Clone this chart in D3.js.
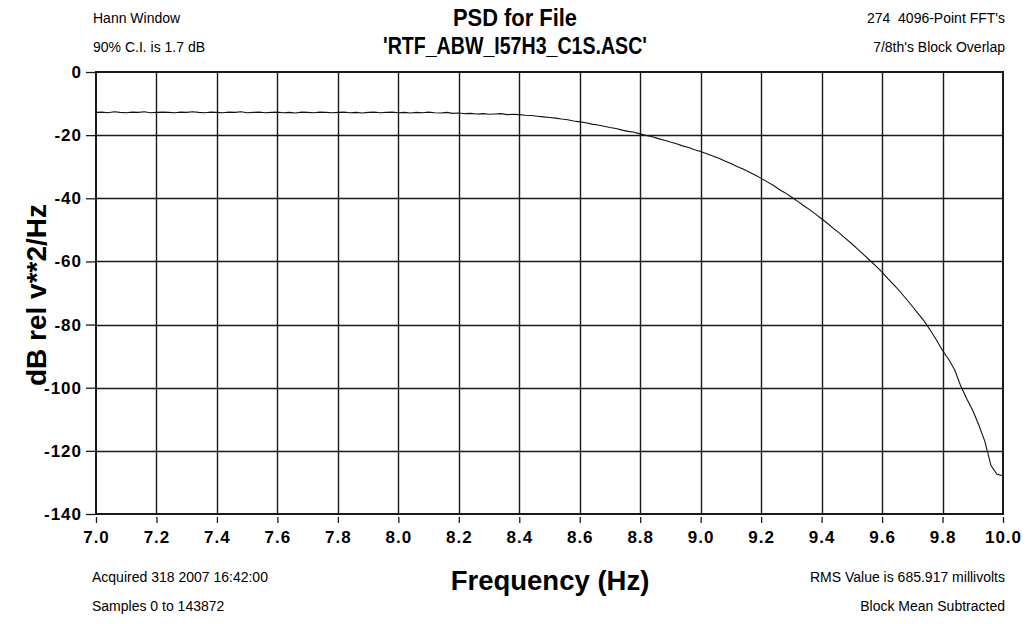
<!DOCTYPE html>
<html>
<head>
<meta charset="utf-8">
<script src="https://d3js.org/d3.v7.min.js"></script>
<style>
  html, body { margin: 0; padding: 0; background: #fff; }
  svg { display: block; }
  text { white-space: pre; }
</style>
</head>
<body>
<script>
// Power spectral density, 7.0 – 10.0 Hz, sampled every 0.02 Hz
const freqStart = 7.0;
const freqStep = 0.02;
const psdDb = [
  -12.8, -12.7, -12.9, -12.6, -12.8, -12.9, -12.7, -12.8, -12.6, -12.9,
  -12.8, -12.7, -12.8, -12.9, -12.7, -12.8, -12.6, -12.8, -12.9, -12.7,
  -12.8, -12.9, -12.7, -12.8, -12.6, -12.9, -12.8, -12.7, -12.9, -12.8,
  -12.7, -12.9, -12.8, -13.0, -12.7, -12.8, -12.9, -12.7, -12.8, -12.9,
  -12.8, -12.7, -12.9, -12.8, -13.0, -12.8, -12.7, -12.9, -12.8, -12.7,
  -12.9, -12.8, -13.0, -12.8, -12.9, -12.7, -12.9, -13.0, -12.8, -13.1,
  -13.0, -13.2, -13.1, -13.3, -13.2, -13.4, -13.3, -13.2, -13.5, -13.4,
  -13.5, -13.7, -13.8, -14.0, -14.2, -14.4, -14.6, -14.9, -15.1, -15.5,
  -15.8, -16.1, -16.5, -16.8, -17.2, -17.6, -17.9, -18.4, -18.8, -19.1,
  -19.6, -20.1, -20.5, -21.1, -21.6, -22.2, -22.7, -23.4, -23.9, -24.6,
  -25.2, -25.9, -26.6, -27.3, -28.2, -29.0, -29.9, -30.7, -31.7, -32.6,
  -33.7, -34.8, -35.9, -37.2, -38.3, -39.6, -40.9, -42.3, -43.6, -45.0,
  -46.5, -48.0, -49.6, -51.1, -52.8, -54.4, -56.2, -57.9, -59.7, -61.5,
  -63.4, -65.5, -67.5, -69.6, -71.9, -74.2, -76.6, -79.0, -81.9, -84.9,
  -88.2, -91.0, -94.3, -99.4, -103.5, -107.2, -111.8, -117.0, -124.6, -127.4,
  -127.9
];

const xTicks = [7.0, 7.2, 7.4, 7.6, 7.8, 8.0, 8.2, 8.4, 8.6, 8.8, 9.0, 9.2, 9.4, 9.6, 9.8, 10.0];
const yTicks = [0, -20, -40, -60, -80, -100, -120, -140];

const titleLines = ["PSD for File", "'RTF_ABW_I57H3_C1S.ASC'"];
const notesTopLeft = ["Hann Window", "90% C.I. is 1.7 dB"];
const notesTopRight = ["274  4096-Point FFT's", "7/8th's Block Overlap"];
const notesBottomLeft = ["Acquired 318 2007 16:42:00", "Samples 0 to 143872"];
const notesBottomRight = ["RMS Value is 685.917 millivolts", "Block Mean Subtracted"];
const xLabel = "Frequency (Hz)";
const yLabel = "dB rel v**2/Hz";

const W = 1026, H = 624;
const plot = { left: 96, right: 1003, top: 72, bottom: 514 };

const svg = d3.select("body").append("svg")
  .attr("width", W).attr("height", H)
  .style("font-family", "'Liberation Sans', Arial, sans-serif");

const x = d3.scaleLinear().domain([7.0, 10.0]).range([plot.left, plot.right]);
const y = d3.scaleLinear().domain([-140, 0]).range([plot.bottom, plot.top]);

// grid
const grid = svg.append("g").attr("stroke", "#1a1a1a").attr("stroke-width", 1.4);
grid.selectAll("line.v").data(xTicks.slice(1, -1)).join("line")
  .attr("x1", d => Math.round(x(d)) + 0.5).attr("x2", d => Math.round(x(d)) + 0.5)
  .attr("y1", plot.top).attr("y2", plot.bottom);
grid.selectAll("line.h").data(yTicks.slice(1, -1)).join("line")
  .attr("y1", d => Math.round(y(d)) + 0.5).attr("y2", d => Math.round(y(d)) + 0.5)
  .attr("x1", plot.left).attr("x2", plot.right);

// frame
svg.append("rect")
  .attr("x", plot.left).attr("y", plot.top)
  .attr("width", plot.right - plot.left).attr("height", plot.bottom - plot.top)
  .attr("fill", "none").attr("stroke", "#1a1a1a").attr("stroke-width", 2);

// y axis ticks + labels (plain hyphen for negatives)
const yAxis = d3.axisLeft(y).tickValues(yTicks).tickSize(9).tickPadding(4)
  .tickFormat(d => String(d));
const gy = svg.append("g").attr("transform", `translate(${plot.left - 1},0)`).call(yAxis);
gy.select(".domain").remove();
gy.selectAll(".tick line").attr("stroke", "#1a1a1a").attr("stroke-width", 1.3);
gy.selectAll(".tick text")
  .attr("fill", "#000").style("font-size", "17px").style("font-weight", "bold")
  .style("letter-spacing", "1px");

// x axis ticks + labels
const xAxis = d3.axisBottom(x).tickValues(xTicks).tickSize(6).tickPadding(8)
  .tickFormat(d3.format(".1f"));
const gx = svg.append("g").attr("transform", `translate(0,${plot.bottom + 3})`).call(xAxis);
gx.select(".domain").remove();
gx.selectAll(".tick line").attr("stroke", "#1a1a1a").attr("stroke-width", 1.3);
gx.selectAll(".tick text")
  .attr("fill", "#000").style("font-size", "17px").style("font-weight", "bold")
  .style("letter-spacing", "1px");

// spectrum curve
const line = d3.line()
  .x((d, i) => x(freqStart + i * freqStep))
  .y(d => y(d));
svg.append("path")
  .datum(psdDb)
  .attr("d", line)
  .attr("fill", "none").attr("stroke", "#111").attr("stroke-width", 1.1);

// title
const titleWidths = [124, 264];
svg.append("g").selectAll("text").data(titleLines).join("text")
  .attr("x", 515)
  .attr("y", (d, i) => 26 + i * 28)
  .attr("text-anchor", "middle")
  .attr("textLength", (d, i) => titleWidths[i])
  .attr("lengthAdjust", "spacingAndGlyphs")
  .style("font-size", "23px").style("font-weight", "bold")
  .text(d => d);

// axis titles
svg.append("text")
  .attr("x", 550).attr("y", 590)
  .attr("text-anchor", "middle")
  .style("font-size", "27.5px").style("font-weight", "bold")
  .text(xLabel);
svg.append("text")
  .attr("transform", `translate(46,295) rotate(-90)`)
  .attr("text-anchor", "middle")
  .style("font-size", "28px").style("font-weight", "bold")
  .text(yLabel);

// corner notes
function notes(lines, xPos, anchor, y0, dy) {
  svg.append("g").selectAll("text").data(lines).join("text")
    .attr("x", xPos).attr("y", (d, i) => y0 + i * dy)
    .attr("text-anchor", anchor)
    .style("font-size", "14px").attr("fill", "#000")
    .text(d => d);
}
notes(notesTopLeft, 93, "start", 23, 29);
notes(notesTopRight, 1005, "end", 23, 29);
notes(notesBottomLeft, 92, "start", 582, 29);
notes(notesBottomRight, 1005, "end", 582, 29);
</script>
</body>
</html>
